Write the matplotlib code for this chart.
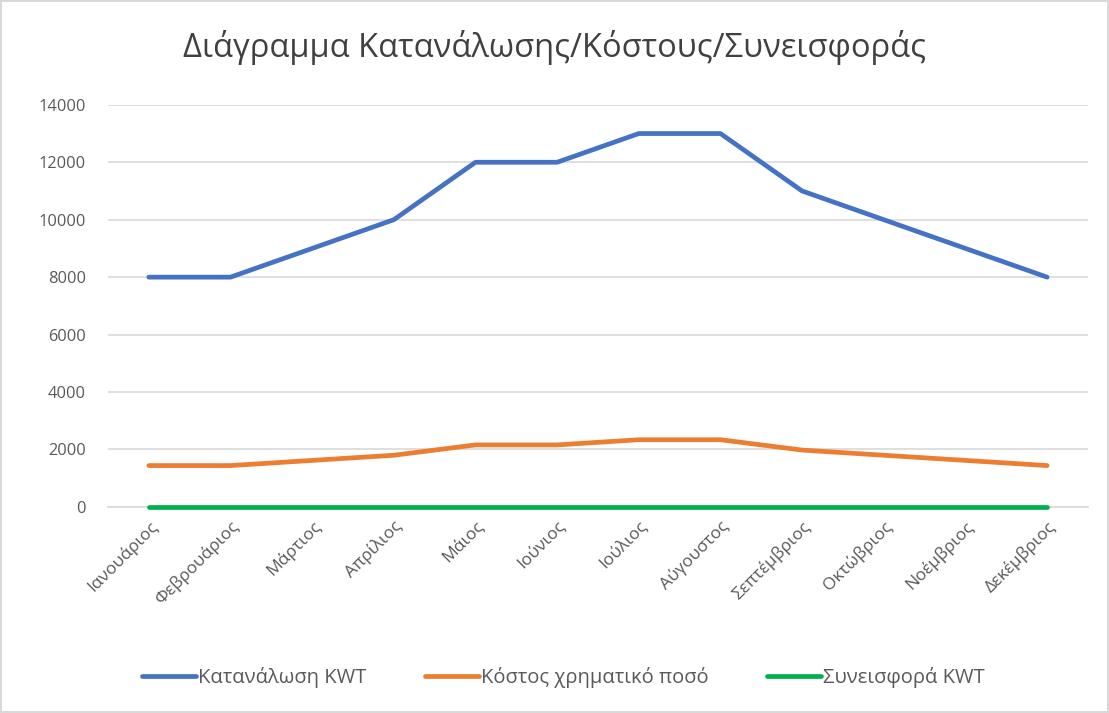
import matplotlib
matplotlib.use('Agg')
import matplotlib.pyplot as plt

plt.rcParams['font.family'] = ['Open Sans', 'DejaVu Sans']

# Δεδομένα
mines = ['Ιανουάριος', 'Φεβρουάριος', 'Μάρτιος', 'Απρίλιος', 'Μάιος', 'Ιούνιος',
         'Ιούλιος', 'Αύγουστος', 'Σεπτέμβριος', 'Οκτώβριος', 'Νοέμβριος', 'Δεκέμβριος']
katanalosi = [8000, 8000, 9000, 10000, 12000, 12000, 13000, 13000, 11000, 10000, 9000, 8000]
kostos = [1440, 1440, 1620, 1800, 2160, 2160, 2340, 2340, 1980, 1800, 1620, 1440]
syneisfora = [0, 0, 0, 0, 0, 0, 0, 0, 0, 0, 0, 0]

grey = '#595959'

fig = plt.figure(figsize=(11.09, 7.13), dpi=100)
fig.patch.set_edgecolor('#d9d9d9')
fig.patch.set_linewidth(1.5)
ax = fig.add_axes([0.0974, 0.289, 0.8836, 0.564])

x = range(len(mines))
style = dict(lw=3.4, solid_capstyle='round', solid_joinstyle='round', clip_on=False, zorder=3)
ax.plot(x, katanalosi, color='#4472C4', label='Κατανάλωση KWT', **style)
ax.plot(x, kostos, color='#ED7D31', label='Κόστος χρηματικό ποσό', **style)
ax.plot(x, syneisfora, color='#00B050', label='Συνεισφορά KWT', **style)

ax.set_xlim(-0.5, len(mines) - 0.5)
ax.set_ylim(0, 14000)
ax.set_yticks(range(0, 14001, 2000))
ax.set_xticks(list(x))
ax.set_xticklabels(mines, rotation=45, ha='right', rotation_mode='anchor', fontsize=12.5, color=grey)
ax.tick_params(axis='y', labelsize=11.8, labelcolor=grey, length=0, pad=16)
ax.tick_params(axis='x', length=0, pad=8)

ax.grid(axis='y', color='#d9d9d9', lw=1.2)
ax.set_axisbelow(True)
for s in ['top', 'right', 'left']:
    ax.spines[s].set_visible(False)
ax.spines['bottom'].set_color('#d9d9d9')
ax.spines['bottom'].set_linewidth(1.2)

fig.suptitle('Διάγραμμα Κατανάλωσης/Κόστους/Συνεισφοράς', y=0.958, fontsize=23.5, color='#404040')

fig.legend(loc='center', bbox_to_anchor=(0.508, 0.05), ncol=3, frameon=False,
           fontsize=14.5, labelcolor=grey, handlelength=2.7, handletextpad=0.1, columnspacing=2.9)

fig.savefig('out.png', dpi=100)
